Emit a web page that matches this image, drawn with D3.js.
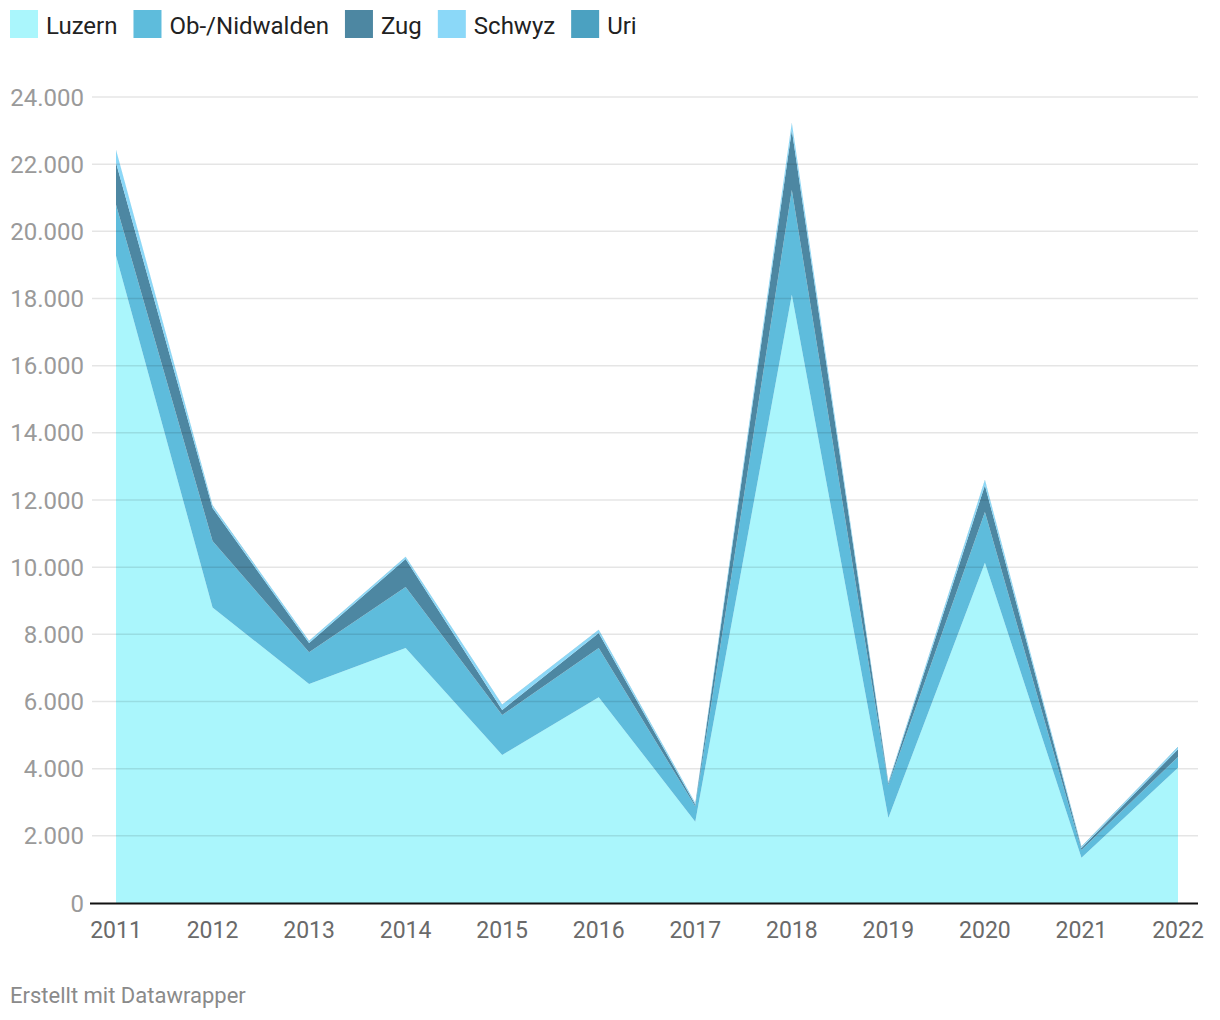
<!DOCTYPE html>
<html><head><meta charset="utf-8">
<script src="https://cdn.jsdelivr.net/npm/d3@7"></script>
<style>
body{margin:0;background:#fff;font-family:Roboto,"Noto Sans",sans-serif;}
</style></head>
<body>
<svg id="chart" width="1220" height="1020"></svg>
<script>
const years = [2011,2012,2013,2014,2015,2016,2017,2018,2019,2020,2021,2022];
const seriesNames = ["Luzern","Ob-/Nidwalden","Zug","Schwyz","Uri"];
const luzern      = [19270, 8800, 6520, 7590, 4410, 6130, 2420, 18110, 2530, 10130, 1350, 4030];
const obNidwalden = [ 1520, 1980,  950, 1820, 1190, 1460,  460,  3120,  980,  1510,  230,  320];
const zug         = [ 1250,  980,  270,  830,  150,  450,   50,  1790,   50,   800,   60,  230];
const schwyz      = [  380,   70,   60,   60,  150,   90,   40,   200,   30,   150,   30,   60];
const uri         = [   10,   10,   10,   10,   10,   10,   10,    10,   10,    10,   10,   10];
const yTicks = [0,2000,4000,6000,8000,10000,12000,14000,16000,18000,20000,22000,24000];
const colors = ["#aaf6fc","#5ebcdc","#4d87a2","#8bd8f8","#4ba1c1"];

const svg = d3.select("#chart");
const data = years.map((y,i)=>({year:y, "Luzern":luzern[i], "Ob-/Nidwalden":obNidwalden[i], "Zug":zug[i], "Schwyz":schwyz[i], "Uri":uri[i]}));
const stack = d3.stack().keys(seriesNames)(data);

const x = d3.scaleLinear().domain([2011,2022]).range([116,1178]);
const y = d3.scaleLinear().domain([0,24000]).range([903,97]);

const fmt = d3.formatLocale({decimal:",",thousands:".",grouping:[3],currency:["","CHF"]}).format(",");

// legend
const leg = svg.append("g");
let lx = 10;
seriesNames.forEach((n,i)=>{
  const g = leg.append("g").attr("transform",`translate(${lx},10)`);
  g.append("rect").attr("width",28).attr("height",28).attr("fill",colors[i]);
  const t = g.append("text").attr("x",36).attr("y",23.5).attr("font-size",24).attr("fill","#222").text(n);
  lx += 36 + t.node().getComputedTextLength() + 16;
});

// areas
const area = d3.area().x(d=>x(d.data.year)).y0(d=>y(d[0])).y1(d=>y(d[1]));
svg.append("g").selectAll("path").data(stack).join("path")
  .attr("d",area).attr("fill",(d,i)=>colors[i]);

// grid
const grid = svg.append("g");
yTicks.filter(t=>t>0).forEach(t=>{
  grid.append("line").attr("x1",92).attr("x2",1198).attr("y1",y(t)).attr("y2",y(t))
    .attr("stroke","#000").attr("stroke-opacity",0.1).attr("stroke-width",1.5);
});
// y labels
svg.append("g").selectAll("text").data(yTicks).join("text")
  .attr("x",84).attr("y",d=>y(d)+8.5).attr("text-anchor","end")
  .attr("font-size",24).attr("fill","#9a9a9a").text(d=>fmt(d));

// baseline
svg.append("line").attr("x1",90).attr("x2",1198).attr("y1",903.5).attr("y2",903.5)
  .attr("stroke","#111").attr("stroke-width",2);

// x labels
svg.append("g").selectAll("text").data(years).join("text")
  .attr("x",d=>x(d)).attr("y",938).attr("text-anchor","middle")
  .attr("font-size",23).attr("fill","#6a6a6a").text(d=>d);

// footer
svg.append("text").attr("x",10).attr("y",1003).attr("font-size",22).attr("fill","#8a8a8a")
  .text("Erstellt mit Datawrapper");
</script>
</body></html>
